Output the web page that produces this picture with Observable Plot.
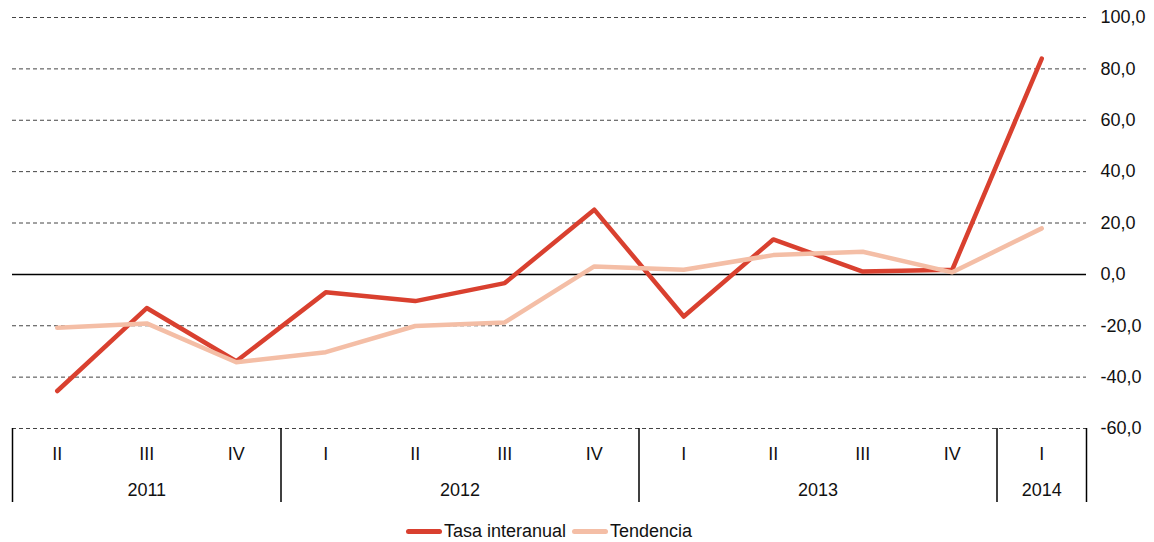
<!DOCTYPE html>
<html>
<head>
<meta charset="utf-8">
<script src="https://cdn.jsdelivr.net/npm/d3@7"></script>
<script src="https://cdn.jsdelivr.net/npm/@observablehq/plot@0.6"></script>
<style>
  body { margin: 0; background: #fff; font-family: "Liberation Sans", Arial, sans-serif; }
  #legend { width: 1098px; display: flex; justify-content: center; align-items: center; gap: 6px; font-size: 18px; color: #111; margin-top: 9px; }
  .item { display: flex; align-items: center; }
  .sw { width: 36px; height: 5px; border-radius: 3px; margin-right: 2px; }
</style>
</head>
<body>
<div id="chart"></div>
<div id="legend"></div>
<script>
const quarters = ["II","III","IV","I","II","III","IV","I","II","III","IV","I"];
const qYears   = [2011,2011,2011,2012,2012,2012,2012,2013,2013,2013,2013,2014];
const tasa      = [-45.4,-13.1,-33.8,-7.0,-10.4,-3.4,25.2,-16.4,13.6,1.1,1.8,84.0];
const tendencia = [-20.8,-19.1,-34.2,-30.3,-20.1,-18.7,3.1,1.8,7.5,8.8,0.8,17.9];
const seriesNames = ["Tasa interanual","Tendencia"];
const colors = ["#d9402f","#f4bea6"];
const yTicks = [-60,-40,-20,0,20,40,60,80,100];

const rows = quarters.map((q,i)=>({i, q, year: qYears[i], tasa: tasa[i], tendencia: tendencia[i]}));
const yearsUnique = [...new Set(qYears)];
const yearLabels = yearsUnique.map(y => {
  const idx = rows.filter(r=>r.year===y).map(r=>r.i);
  return {year: y, x: d3.mean(idx)};
});
const separators = [-0.5, ...yearsUnique.map(y => d3.max(rows.filter(r=>r.year===y), r=>r.i) + 0.5)];

const chart = Plot.plot({
  width: 1154,
  height: 512,
  marginTop: 17,
  marginBottom: 84,
  marginLeft: 12,
  marginRight: 68,
  style: {fontFamily: '"Liberation Sans", Arial, sans-serif', fontSize: "18px", color: "#111", background: "#fff"},
  x: {type: "linear", domain: [-0.5, quarters.length - 0.5], axis: null},
  y: {domain: [-60, 100], axis: null},
  marks: [
    Plot.ruleY(yTicks.filter(t=>t!==0), {stroke: "#444", strokeDasharray: "4,3", strokeWidth: 1}),
    Plot.ruleY([0], {stroke: "#000", strokeWidth: 1.5}),
    Plot.axisY(yTicks, {anchor: "right", tickSize: 0, tickPadding: 14, fontSize: 18, fill: "#111",
      tickFormat: d => d.toFixed(1).replace(".", ",")}),
    Plot.ruleX(separators, {y1: -60, y2: -60, insetBottom: -74, stroke: "#000", strokeWidth: 1.5}),
    Plot.text(rows, {x: "i", y: -60, text: "q", dy: 26, fontSize: 18, fill: "#111", lineAnchor: "middle"}),
    Plot.text(yearLabels, {x: "x", y: -60, text: d => String(d.year), dy: 62, fontSize: 18, fill: "#111", lineAnchor: "middle"}),
    Plot.line(rows, {x: "i", y: "tasa", stroke: colors[0], strokeWidth: 4.5, strokeLinejoin: "round", strokeLinecap: "round"}),
    Plot.line(rows, {x: "i", y: "tendencia", stroke: colors[1], strokeWidth: 4.5, strokeLinejoin: "round", strokeLinecap: "round"})
  ]
});
document.getElementById("chart").appendChild(chart);

const legend = document.getElementById("legend");
seriesNames.forEach((n, k) => {
  const it = document.createElement("div");
  it.className = "item";
  const sw = document.createElement("span");
  sw.className = "sw";
  sw.style.background = colors[k];
  const t = document.createElement("span");
  t.textContent = n;
  it.appendChild(sw); it.appendChild(t);
  legend.appendChild(it);
});
</script>
</body>
</html>
